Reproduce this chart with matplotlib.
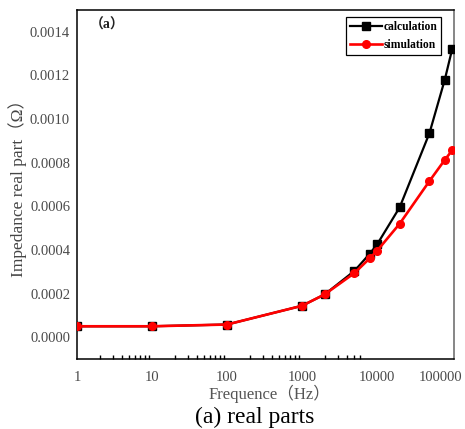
import matplotlib
matplotlib.use("Agg")
import matplotlib.pyplot as plt
from matplotlib.ticker import FixedLocator, NullFormatter
from matplotlib.transforms import ScaledTranslation

freq = [1, 10, 100, 1000, 2000, 5000, 8000, 10000, 20000, 50000, 80000, 100000]
calculation = [5.0e-5, 5.0e-5, 5.8e-5, 1.44e-4, 1.96e-4, 3.04e-4, 3.83e-4, 4.25e-4,
               5.95e-4, 9.36e-4, 1.181e-3, 1.319e-3]
simulation = [5.0e-5, 5.0e-5, 5.8e-5, 1.44e-4, 1.96e-4, 2.94e-4, 3.62e-4, 3.96e-4,
              5.20e-4, 7.16e-4, 8.13e-4, 8.56e-4]
xticks = [1, 10, 100, 1000, 10000, 100000]
xticklabels = ["1", "10", "100", "1000", "10000", "100000"]
yticks = [0.0, 0.0002, 0.0004, 0.0006, 0.0008, 0.0010, 0.0012, 0.0014]
yticklabels = ["0.0000", "0.0002", "0.0004", "0.0006", "0.0008", "0.0010", "0.0012", "0.0014"]

serif = ["Liberation Serif", "Noto Sans CJK SC", "DejaVu Sans"]
plt.rcParams["font.family"] = serif

fig = plt.figure(figsize=(4.65, 4.29), dpi=100)
ax = fig.add_axes([0.1656, 0.1632, 0.9763 - 0.1656, 0.9767 - 0.1632])

ax.plot(freq, calculation, color="black", lw=1.6, marker="s", ms=5.5,
        label="calculation", zorder=3)
ax.plot(freq, simulation, color="#ff0000", lw=1.9, marker="o", ms=5.5,
        label="simulation", zorder=4)

ax.set_xscale("log")
ax.set_xlim(1, 1.06e5)
ax.set_ylim(-0.0001, 0.0015)

ax.xaxis.set_major_locator(FixedLocator(xticks))
ax.set_xticklabels(xticklabels)
minor = [m * d for d in (1, 10, 100) for m in range(2, 10)] + [m * 1000 for m in range(2, 7)]
ax.xaxis.set_minor_locator(FixedLocator(minor))
ax.xaxis.set_minor_formatter(NullFormatter())
ax.set_yticks(yticks)
ax.set_yticklabels(yticklabels)

ax.tick_params(axis="both", which="major", length=0, labelsize=10.5,
               labelcolor="#4a4a4a")
ax.tick_params(axis="x", which="major", pad=9)
ax.tick_params(axis="y", which="major", pad=5)
ax.tick_params(axis="x", which="minor", direction="in", length=3, width=1,
               color="black")
ax.tick_params(axis="y", which="minor", length=0)

# last x tick label sits against the right edge of the picture
last = ax.get_xticklabels()[-1]
last.set_horizontalalignment("right")
last.set_transform(last.get_transform() + ScaledTranslation(0.10, 0, fig.dpi_scale_trans))

for side in ("left", "bottom", "top"):
    ax.spines[side].set_color("black")
    ax.spines[side].set_linewidth(1.1)
ax.spines["right"].set_color("#666666")
ax.spines["right"].set_linewidth(1.1)

ax.set_xlabel("Frequence（Hz）", fontsize=12, color="#555555", labelpad=2)
ax.xaxis.set_label_coords(0.51, -0.075)
ax.set_ylabel("Impedance real part（Ω）", fontsize=12.5, color="#444444", labelpad=2)

ax.text(0.035, 0.975, "（a）", transform=ax.transAxes, fontsize=10,
        fontweight="bold", ha="left", va="top", color="#222222",
        family=["Liberation Serif", "Noto Sans CJK SC"])

leg = ax.legend(loc="upper right", bbox_to_anchor=(0.966, 0.98), frameon=True,
                fancybox=False, edgecolor="black", framealpha=1,
                prop={"family": serif, "weight": "bold", "size": 8.3},
                handlelength=2.8, handletextpad=0.1, borderpad=0.35,
                labelspacing=0.55, borderaxespad=0.0)
leg.get_frame().set_linewidth(0.9)

fig.text(0.548, 0.026, "(a) real parts", fontsize=17, ha="center", va="center",
         color="black")

fig.savefig("out.png", dpi=100)
